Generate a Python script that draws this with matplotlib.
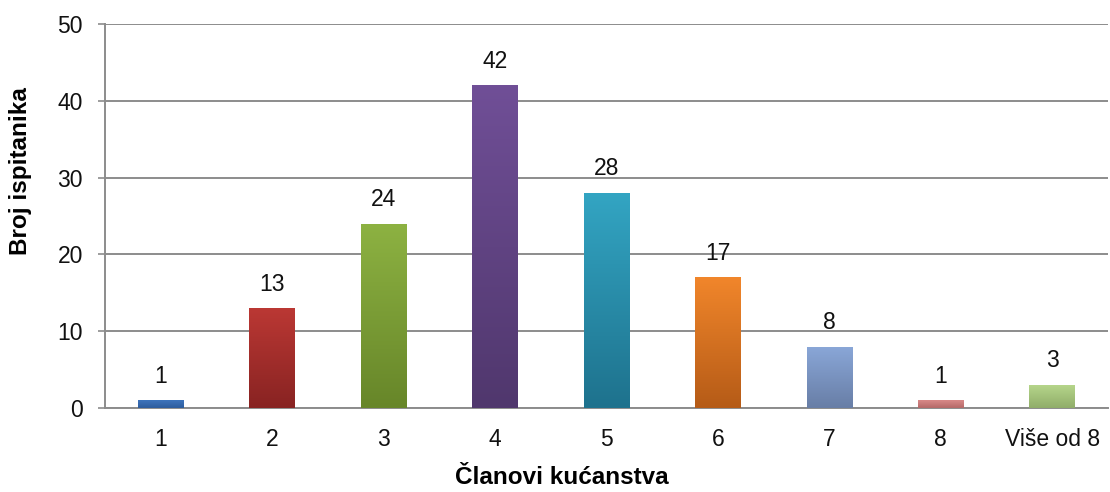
import numpy as np
import matplotlib

matplotlib.use("Agg")
import matplotlib.pyplot as plt
from matplotlib.colors import LinearSegmentedColormap

plt.rcParams["font.family"] = ["Liberation Sans", "DejaVu Sans"]

# data
categories = ["1", "2", "3", "4", "5", "6", "7", "8", "Više od 8"]
counts = [1, 13, 24, 42, 28, 17, 8, 1, 3]

# (top, bottom) gradient colours per bar
bar_colors = [
    ("#3d74bd", "#2d5c9c"),
    ("#bb3834", "#882322"),
    ("#8db242", "#678629"),
    ("#704f97", "#50376d"),
    ("#33a5c3", "#1e728d"),
    ("#f1862b", "#b55b17"),
    ("#8aa7d8", "#687ea6"),
    ("#d98988", "#b56968"),
    ("#b7d78c", "#90ad69"),
]

fig = plt.figure(figsize=(11.1, 4.92), dpi=100)
ax = fig.add_axes([0.0946, 0.1707, 0.9036, 0.7805])

x = np.arange(len(categories))
bars = ax.bar(x, counts, width=0.41, color="none", zorder=3)

# gradient fill clipped to each bar
grad = np.linspace(0, 1, 256).reshape(-1, 1)
for bar, (top, bottom) in zip(bars, bar_colors):
    bx, by = bar.get_x(), bar.get_y()
    bw, bh = bar.get_width(), bar.get_height()
    cmap = LinearSegmentedColormap.from_list("g", [bottom, top])
    im = ax.imshow(grad, cmap=cmap, aspect="auto", origin="lower",
                   extent=[bx, bx + bw, by, by + bh], zorder=3)
    im.set_clip_path(bar)
    ax.annotate(str(bar.get_height()), (bx + bw / 2, by + bh),
                xytext=(0, 9), textcoords="offset points",
                ha="center", va="bottom", fontsize=16.5, color="#111111")

ax.set_xlim(-0.5, len(categories) - 0.5)
ax.set_ylim(0, 50)
ax.set_yticks(range(0, 51, 10))
ax.set_xticks(x)
ax.set_xticklabels(categories)

ax.grid(axis="y", color="#8c8c8c", linewidth=1.4, zorder=0)
ax.set_axisbelow(True)
for side in ("top", "right"):
    ax.spines[side].set_visible(False)
for side in ("left", "bottom"):
    ax.spines[side].set_color("#8c8c8c")
    ax.spines[side].set_linewidth(1.4)

ax.tick_params(axis="y", length=5, width=1.2, color="#8c8c8c", pad=11,
               labelsize=16.5, labelcolor="#111111")
ax.tick_params(axis="x", length=0, pad=14.5, labelsize=16.5,
               labelcolor="#111111")

fig.text(562 / 1110, 1 - 478 / 492, "Članovi kućanstva", ha="center",
         va="center", fontsize=17.5, fontweight="bold")
fig.text(21 / 1110, 1 - 171 / 492, "Broj ispitanika", ha="center",
         va="center", rotation=90, fontsize=17.5, fontweight="bold")

fig.savefig("out.png", dpi=100)
